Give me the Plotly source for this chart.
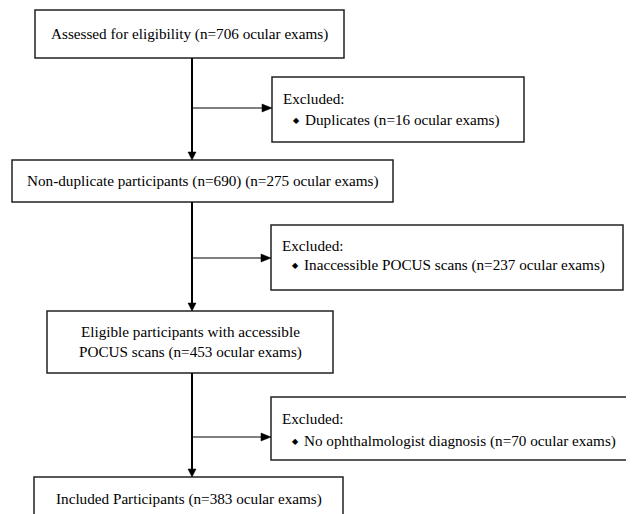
import plotly.graph_objects as go

# ---- data ----
main_labels = [
    "Assessed for eligibility (n=706 ocular exams)",
    "Non-duplicate participants (n=690) (n=275 ocular exams)",
    "Eligible participants with accessible<br>POCUS scans (n=453 ocular exams)",
    "Included Participants (n=383 ocular exams)",
]
excluded_header = "Excluded:"
excluded_items = [
    "Duplicates (n=16 ocular exams)",
    "Inaccessible POCUS scans (n=237 ocular exams)",
    "No ophthalmologist diagnosis (n=70 ocular exams)",
]

# ---- layout geometry (page pixels, y downward) ----
main_boxes = [(35, 344, 10, 58), (12, 393, 160, 202), (47, 333, 311, 373), (34, 343, 477, 540)]
excl_boxes = [(272, 524, 77, 142), (271, 623, 225, 290), (271, 633, 397, 460)]
excl_arrow_y = [108, 258, 437]
spine_x = 192
W, H = 634, 514
OFF = 8  # page body margin
FONT = "Liberation Serif, Times New Roman, serif"
FS = 15.2
LC = "#222222"

fig = go.Figure()
shapes, annots = [], []

def rect(b):
    x0, x1, y0, y1 = b
    shapes.append(dict(type="rect", x0=x0, x1=x1, y0=y0, y1=y1, xref="x", yref="y",
                       line=dict(color=LC, width=1.5), fillcolor="white", layer="above"))

for b in main_boxes:
    rect(b)
for b in excl_boxes:
    rect(b)

# vertical spines with down arrowheads
for i in range(3):
    ytop = main_boxes[i][3]
    ybot = main_boxes[i + 1][2]
    shapes.append(dict(type="line", x0=spine_x, x1=spine_x, y0=ytop, y1=ybot - 6,
                       line=dict(color="black", width=2)))
    shapes.append(dict(type="path",
                       path=f"M {spine_x-4},{ybot-8} L {spine_x+4},{ybot-8} L {spine_x},{ybot} Z",
                       fillcolor="black", line=dict(color="black", width=0.5)))

# horizontal arrows to exclusion boxes
for b, y in zip(excl_boxes, excl_arrow_y):
    xe = b[0]
    shapes.append(dict(type="line", x0=spine_x, x1=xe - 8, y0=y, y1=y,
                       line=dict(color="black", width=1.2)))
    shapes.append(dict(type="path",
                       path=f"M {xe-10},{y-4} L {xe-10},{y+4} L {xe},{y} Z",
                       fillcolor="black", line=dict(color="black", width=0.5)))

# main box texts
main_text_y = [34, 181, 342, 499]
for (x0, x1, y0, y1), lab, ty in zip(main_boxes, main_labels, main_text_y):
    annots.append(dict(x=(x0 + x1) / 2, y=ty, text=lab, showarrow=False, xref="x", yref="y",
                       xanchor="center", yanchor="middle", align="center",
                       font=dict(family=FONT, size=FS, color="black")))

# exclusion texts
hdr_y = [98, 245, 418]
item_y = [120, 265, 441]
for b, item, hy, iy in zip(excl_boxes, excluded_items, hdr_y, item_y):
    annots.append(dict(x=b[0] + 9, y=hy, text=excluded_header, showarrow=False, xref="x", yref="y",
                       xanchor="left", yanchor="middle",
                       font=dict(family=FONT, size=FS, color="black")))
    annots.append(dict(x=b[0] + 19, y=iy, text="\u25C6", showarrow=False, xref="x", yref="y",
                       xanchor="left", yanchor="middle",
                       font=dict(family="DejaVu Sans", size=8, color="black")))
    annots.append(dict(x=b[0] + 31, y=iy, text=item, showarrow=False, xref="x", yref="y",
                       xanchor="left", yanchor="middle",
                       font=dict(family=FONT, size=FS, color="black")))

fig.update_layout(
    width=W, height=H, margin=dict(l=0, r=0, t=0, b=0),
    paper_bgcolor="white", plot_bgcolor="white",
    xaxis=dict(range=[OFF, W + OFF], visible=False, fixedrange=True),
    yaxis=dict(range=[H + OFF, OFF], visible=False, fixedrange=True),
    shapes=shapes, annotations=annots, showlegend=False,
)
fig.write_html("out.html")
